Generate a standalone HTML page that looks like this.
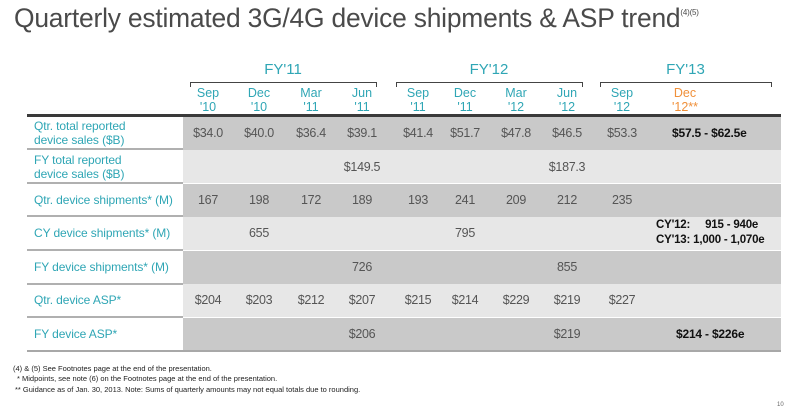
<!DOCTYPE html>
<html><head><meta charset="utf-8"><style>
body{margin:0;width:792px;height:413px;background:#fff;position:relative;overflow:hidden;font-family:"Liberation Sans",sans-serif}
div{position:absolute}
.t{left:14px;top:3px;font-size:26.4px;color:#4a4a4a;white-space:nowrap;letter-spacing:-0.2px}
.t sup{font-size:8px;vertical-align:top;position:relative;top:5px}
.fy{color:#2fa6b5;font-size:15px;text-align:center}
.br{border:1.5px solid #444;border-bottom:none;height:4px;top:82px}
.h{color:#2fa6b5;font-size:12.5px;text-align:center;line-height:14px;width:50px;top:86px}
.row{left:183px;width:598px;height:33px}
.d{background:#c9c9c9}.l{background:#e7e7e7}
.sep{left:27px;width:156px;height:2px;background:#b0b0b0}
.lab{left:34px;color:#2fa6b5;font-size:12px;line-height:14px;width:150px;white-space:nowrap;letter-spacing:-0.1px}
.v{color:#555;font-size:12.5px;text-align:center;width:56px;letter-spacing:-0.3px}
.b{color:#111;font-weight:bold;font-size:12px;white-space:nowrap;letter-spacing:-0.2px}
.fn{left:13px;font-size:7.5px;color:#222;white-space:nowrap}
</style></head><body>
<div class="t">Quarterly estimated 3G/4G device shipments &amp; ASP trend<sup>(4)(5)</sup></div>

<div class="fy" style="left:190px;width:186px;top:61px">FY'11</div>
<div class="fy" style="left:396px;width:186px;top:61px">FY'12</div>
<div class="fy" style="left:600px;width:171px;top:61px">FY'13</div>
<div class="br" style="left:190px;width:185px"></div>
<div class="br" style="left:396px;width:185px"></div>
<div class="br" style="left:600px;width:170px"></div>

<div class="h" style="left:183px">Sep<br>'10</div>
<div class="h" style="left:234px">Dec<br>'10</div>
<div class="h" style="left:286px">Mar<br>'11</div>
<div class="h" style="left:337px">Jun<br>'11</div>
<div class="h" style="left:393px">Sep<br>'11</div>
<div class="h" style="left:440px">Dec<br>'11</div>
<div class="h" style="left:491px">Mar<br>'12</div>
<div class="h" style="left:542px">Jun<br>'12</div>
<div class="h" style="left:597px">Sep<br>'12</div>
<div class="h" style="left:660px;color:#f0903a">Dec<br>'12**</div>

<div style="left:27px;top:114px;width:754px;height:3px;background:#3a3a3a"></div>
<div class="row d" style="top:117px"></div>
<div class="row l" style="top:150px"></div>
<div class="row d" style="top:184px"></div>
<div class="row l" style="top:217px"></div>
<div class="row d" style="top:251px"></div>
<div class="row l" style="top:284px"></div>
<div class="row d" style="top:318px"></div>
<div class="sep" style="top:148px"></div>
<div class="sep" style="top:182px"></div>
<div class="sep" style="top:215px"></div>
<div class="sep" style="top:249px"></div>
<div class="sep" style="top:283px"></div>
<div class="sep" style="top:316px"></div>
<div style="left:27px;top:350px;width:754px;height:2px;background:#a8a8a8"></div>

<div class="lab" style="top:119px">Qtr. total reported<br>device sales ($B)</div>
<div class="lab" style="top:153px">FY total reported<br>device sales ($B)</div>
<div class="lab" style="top:193px">Qtr. device shipments* (M)</div>
<div class="lab" style="top:226px">CY device shipments* (M)</div>
<div class="lab" style="top:260px">FY device shipments* (M)</div>
<div class="lab" style="top:293px">Qtr. device ASP*</div>
<div class="lab" style="top:327px">FY device ASP*</div>

<div class="v" style="left:180px;top:126px">$34.0</div>
<div class="v" style="left:231px;top:126px">$40.0</div>
<div class="v" style="left:283px;top:126px">$36.4</div>
<div class="v" style="left:334px;top:126px">$39.1</div>
<div class="v" style="left:390px;top:126px">$41.4</div>
<div class="v" style="left:437px;top:126px">$51.7</div>
<div class="v" style="left:488px;top:126px">$47.8</div>
<div class="v" style="left:539px;top:126px">$46.5</div>
<div class="v" style="left:594px;top:126px">$53.3</div>
<div class="b" style="left:672px;top:126px">$57.5 - $62.5e</div>

<div class="v" style="left:334px;top:160px">$149.5</div>
<div class="v" style="left:539px;top:160px">$187.3</div>

<div class="v" style="left:180px;top:193px">167</div>
<div class="v" style="left:231px;top:193px">198</div>
<div class="v" style="left:283px;top:193px">172</div>
<div class="v" style="left:334px;top:193px">189</div>
<div class="v" style="left:390px;top:193px">193</div>
<div class="v" style="left:437px;top:193px">241</div>
<div class="v" style="left:488px;top:193px">209</div>
<div class="v" style="left:539px;top:193px">212</div>
<div class="v" style="left:594px;top:193px">235</div>

<div class="v" style="left:231px;top:226px">655</div>
<div class="v" style="left:437px;top:226px">795</div>
<div class="b" style="left:656px;top:218px;line-height:15px;white-space:pre;font-size:11.5px">CY'12:     915 - 940e
CY'13: 1,000 - 1,070e</div>

<div class="v" style="left:334px;top:260px">726</div>
<div class="v" style="left:539px;top:260px">855</div>

<div class="v" style="left:180px;top:293px">$204</div>
<div class="v" style="left:231px;top:293px">$203</div>
<div class="v" style="left:283px;top:293px">$212</div>
<div class="v" style="left:334px;top:293px">$207</div>
<div class="v" style="left:390px;top:293px">$215</div>
<div class="v" style="left:437px;top:293px">$214</div>
<div class="v" style="left:488px;top:293px">$229</div>
<div class="v" style="left:539px;top:293px">$219</div>
<div class="v" style="left:594px;top:293px">$227</div>

<div class="v" style="left:334px;top:327px">$206</div>
<div class="v" style="left:539px;top:327px">$219</div>
<div class="b" style="left:676px;top:327px">$214 - $226e</div>

<div class="fn" style="top:364px">(4) &amp; (5) See Footnotes page at the end of the presentation.</div>
<div class="fn" style="top:374px;left:17px">* Midpoints, see note (6) on the Footnotes page at the end of the presentation.</div>
<div class="fn" style="top:385px;left:15px">** Guidance as of Jan. 30, 2013. Note: Sums of quarterly amounts may not equal totals due to rounding.</div>
<div style="left:777px;top:402px;font-size:6px;color:#666">10</div>
</body></html>
